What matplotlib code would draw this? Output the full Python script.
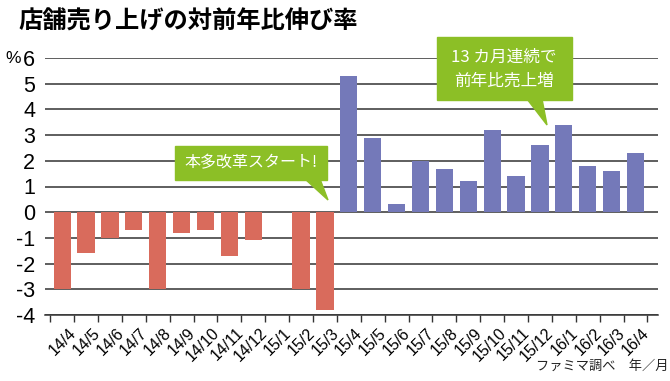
import matplotlib
matplotlib.use("Agg")
import matplotlib.pyplot as plt
from matplotlib.patches import Rectangle, Polygon
import numpy as np

categories = ["14/4", "14/5", "14/6", "14/7", "14/8", "14/9", "14/10", "14/11", "14/12",
              "15/1", "15/2", "15/3", "15/4", "15/5", "15/6", "15/7", "15/8", "15/9",
              "15/10", "15/11", "15/12", "16/1", "16/2", "16/3", "16/4"]
values = [-3.0, -1.6, -1.0, -0.7, -3.0, -0.8, -0.7, -1.7, -1.1,
          0.0, -3.0, -3.8, 5.3, 2.9, 0.3, 2.0, 1.7, 1.2,
          3.2, 1.4, 2.6, 3.4, 1.8, 1.6, 2.3]
yticks = [-4, -3, -2, -1, 0, 1, 2, 3, 4, 5, 6]

RED = "#d96b5c"
BLUE = "#7479b9"
GREEN = "#8cbf26"
JP = ["Noto Sans CJK JP", "DejaVu Sans"]
NUM = ["Liberation Sans Narrow", "Liberation Sans", "DejaVu Sans"]

W, H = 670, 381
fig = plt.figure(figsize=(W / 100, H / 100), dpi=100)
fig.patch.set_facecolor("white")

def fx(x):
    return x / W

def fy(y):
    return 1 - y / H

ax = fig.add_axes([fx(45), fy(315), fx(658) - fx(45), fy(58) - fy(315)])
x = np.arange(len(categories))
colors = [RED if v < 0 else BLUE for v in values]
ax.bar(x, values, width=0.72, color=colors, zorder=3)

ax.set_ylim(-4, 6)
ax.set_xlim(-0.72, len(categories) - 1 + 0.94)
ax.set_yticks(yticks)
ax.set_yticklabels([str(t) for t in yticks], family=NUM, fontsize=15.5)
ax.tick_params(axis="y", length=0, pad=7)
for t in yticks:
    ax.axhline(t, color="#333333", lw=1.1, zorder=1)

ax.set_xticks(np.append(x - 0.5, len(categories) - 0.5))
ax.set_xticklabels([""] * (len(categories) + 1))
ax.tick_params(axis="x", length=5, width=1, color="#333333", direction="out")
for i, c in enumerate(categories):
    ax.text(i + 0.25, -4.4, c, rotation=45, ha="right", va="top",
            family=NUM, fontsize=11.5, rotation_mode="anchor")

for s in ["top", "right", "left"]:
    ax.spines[s].set_visible(False)
ax.spines["bottom"].set_color("#333333")
ax.spines["bottom"].set_linewidth(1.1)

fig.text(fx(5), fy(63), "%", family=NUM, fontsize=12.5, va="baseline", ha="left")

fig.text(fx(18), fy(22), "店舗売り上げの対前年比伸び率", family=JP,
         fontweight="bold", fontsize=17.5, va="center", ha="left")

fig.text(fx(668), fy(366), "ファミマ調べ　年／月", family=JP, fontsize=9.5,
         va="center", ha="right", color="#222222")

# callout 1
fig.patches.append(Rectangle((fx(175), fy(180)), fx(327) - fx(175), fy(146) - fy(180),
                             transform=fig.transFigure, color=GREEN, zorder=5))
fig.patches.append(Polygon([(fx(305), fy(179)), (fx(320), fy(179)), (fx(328), fy(200))],
                           closed=True, transform=fig.transFigure, color=GREEN, zorder=5))
fig.text(fx(251), fy(163), "本多改革スタート!", family=JP, fontsize=11.5,
         color="white", ha="center", va="center", zorder=6)

# callout 2
fig.patches.append(Rectangle((fx(437), fy(100)), fx(572) - fx(437), fy(37) - fy(100),
                             transform=fig.transFigure, color=GREEN, zorder=5))
fig.patches.append(Polygon([(fx(527), fy(99)), (fx(542), fy(99)), (fx(547), fy(125))],
                           closed=True, transform=fig.transFigure, color=GREEN, zorder=5))
fig.text(fx(504), fy(57), "13 カ月連続で", family=JP, fontsize=12,
         color="white", ha="center", va="center", zorder=6)
fig.text(fx(504), fy(81), "前年比売上増", family=JP, fontsize=12,
         color="white", ha="center", va="center", zorder=6)

fig.savefig("out.png", dpi=100, facecolor="white")
